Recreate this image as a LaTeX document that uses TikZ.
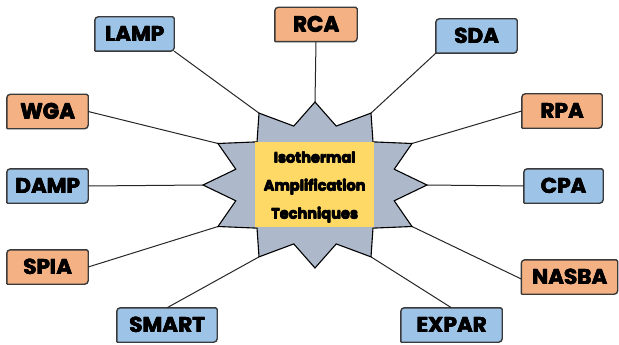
\documentclass[tikz,border=0pt]{standalone}
\usepackage{fontspec}
\setmainfont{Poppins}
\usetikzlibrary{backgrounds}
\definecolor{boxblue}{HTML}{9DC3E6}
\definecolor{boxorange}{HTML}{F4B183}
\definecolor{staryellow}{HTML}{FFD966}
\definecolor{stargray}{HTML}{ADB9CA}
\definecolor{edgegray}{HTML}{3A3A3A}
\newcommand{\heavy}[1]{%
  \makebox[0pt][l]{\hspace{0.5pt}#1}%
  \makebox[0pt][l]{\raisebox{0.4pt}{#1}}%
  \makebox[0pt][l]{\hspace{0.5pt}\raisebox{0.4pt}{#1}}%
  #1}
\tikzset{
  tag/.style={inner sep=0pt, minimum height=34pt, font=\fontsize{21.5}{23}\selectfont\bfseries, text=black},
  link/.style={draw=black!85, line width=1pt},
  starshape/.style={draw=black, fill=stargray, line width=1.1pt, line join=miter},
}
\newcommand{\tagbox}[2]{%
  \filldraw[fill=#2, draw=edgegray, line width=1.4pt]
    (#1.west) [rounded corners=0.8pt] |- (#1.south)
    [rounded corners=3.5pt] -| (#1.east)
    [rounded corners=1.5pt] |- (#1.north)
    [rounded corners=3.5pt] -| (#1.west) -- cycle;}
\begin{document}
\begin{tikzpicture}[x=1pt, y=-1pt]
\useasboundingbox (0,0) rectangle (619,345);
% star geometry
\foreach \k in {0,...,11} {
  \coordinate (t\k) at ({315+112*cos(90-30*\k)}, {185-83*sin(90-30*\k)});
  \coordinate (i\k) at ({315+82*cos(75-30*\k)}, {185-61*sin(75-30*\k)});
}
% boxes
\node[tag, minimum width=79pt] (lamp)  at (134.5,34)  {\heavy{LAMP}};
\node[tag, minimum width=82pt] (rca)   at (316,24.5)  {\heavy{RCA}};
\node[tag, minimum width=81pt] (sda)   at (476.5,36)  {\heavy{SDA}};
\node[tag, minimum width=81pt] (wga)   at (47.5,111.5) {\heavy{WGA}};
\node[tag, minimum width=80pt] (rpa)   at (562,111)   {\heavy{RPA}};
\node[tag, minimum width=81pt] (damp)  at (47.5,186)  {\heavy{DAMP}};
\node[tag, minimum width=79pt] (cpa)   at (563.5,186) {\heavy{CPA}};
\node[tag, minimum width=81pt] (spia)  at (47.5,267)  {\heavy{SPIA}};
\node[tag, minimum width=96pt] (nasba) at (569.5,277) {\heavy{NASBA}};
\node[tag, minimum width=100pt] (smart) at (167,325)  {\heavy{SMART}};
\node[tag, minimum width=101pt] (expar) at (451.5,325) {\heavy{EXPAR}};
\begin{pgfonlayer}{background}
\tagbox{lamp}{boxblue}
\tagbox{rca}{boxorange}
\tagbox{sda}{boxblue}
\tagbox{wga}{boxorange}
\tagbox{rpa}{boxorange}
\tagbox{damp}{boxblue}
\tagbox{cpa}{boxblue}
\tagbox{spia}{boxorange}
\tagbox{nasba}{boxorange}
\tagbox{smart}{boxblue}
\tagbox{expar}{boxblue}
\end{pgfonlayer}
% connectors
\draw[link] (rca.south) -- (t0);
\draw[link] (sda.south west) -- (t1);
\draw[link] (rpa.west) -- (t2);
\draw[link] (cpa.west) -- (t3);
\draw[link] ([yshift=-2pt]nasba.west) -- (t4);
\draw[link] (expar.north) -- (t5);
\draw[link] (smart.north) -- (t7);
\draw[link] (spia.east) -- (t8);
\draw[link] (damp.east) -- (t9);
\draw[link] (wga.east) -- (t10);
\draw[link] (lamp.south east) -- (t11);
% star
\draw[starshape] (t0) \foreach \k in {0,...,11}{ -- (t\k) -- (i\k) } -- cycle;
\fill[staryellow] (255,142) rectangle (374,227);
\node[align=center, font=\fontsize{14.5}{28}\selectfont\bfseries] (title) at (314.5,187.5)
  {\heavy{Isothermal}\\\heavy{Amplification}\\\heavy{Techniques}};
\end{tikzpicture}
\end{document}
